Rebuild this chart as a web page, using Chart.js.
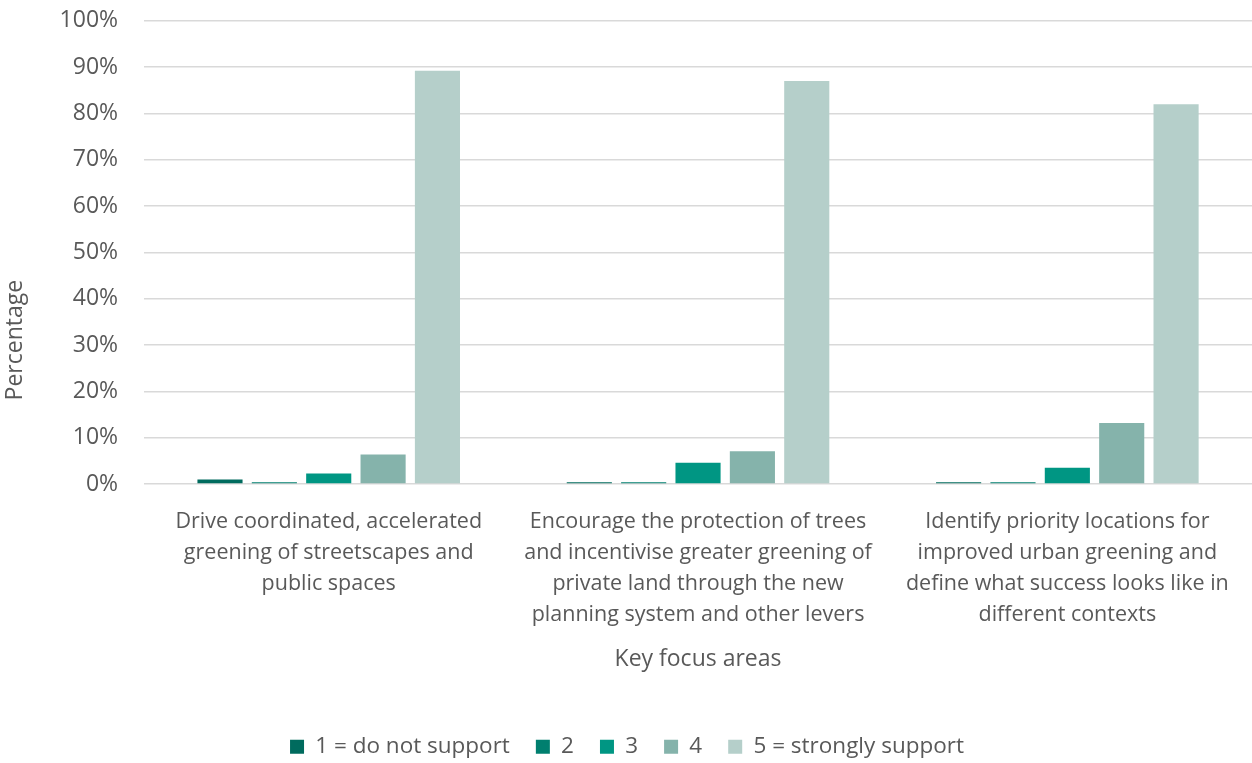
<!DOCTYPE html>
<html>
<head>
  <meta charset="UTF-8">
  <title>Key focus areas</title>
  <script src="https://cdn.jsdelivr.net/npm/chart.js"></script>
  <style>
    html, body { margin: 0; padding: 0; background: #fff; overflow: hidden; }
    /* pull the canvas up so the plot starts close to the top edge */
    #wrap { width: 1252px; height: 782px; margin-top: -19px; }
  </style>
</head>
<body>
  <div id="wrap"><canvas id="chart"></canvas></div>

  <script>
    const areas = [
      ['Drive coordinated, accelerated', 'greening of streetscapes and', 'public spaces'],
      ['Encourage the protection of trees', 'and incentivise greater greening of', 'private land through the new', 'planning system and other levers'],
      ['Identify priority locations for', 'improved urban greening and', 'define what success looks like in', 'different contexts']
    ];
    const seriesNames = ['1 = do not support', '2', '3', '4', '5 = strongly support'];
    const score1 = [1.0, 0.4, 0.4];
    const score2 = [0.4, 0.4, 0.4];
    const score3 = [2.3, 4.6, 3.5];
    const score4 = [6.4, 7.1, 13.2];
    const score5 = [89.2, 87.0, 82.0];
    const colours = ['#006B5E', '#007F6F', '#009683', '#85B3AB', '#B5CFCA'];

    const fontFamily = '"Open Sans", "Noto Sans", sans-serif';
    const textColour = '#595959';

    const allScores = [score1, score2, score3, score4, score5];
    const datasets = allScores.map((vals, i) => ({
      label: seriesNames[i],
      data: vals,
      backgroundColor: colours[i],
      borderWidth: 0,
      barPercentage: 0.83,
      categoryPercentage: 0.736
    }));

    new Chart(document.getElementById('chart'), {
      type: 'bar',
      data: { labels: areas, datasets: datasets },
      options: {
        responsive: true,
        maintainAspectRatio: false,
        animation: false,
        layout: { padding: { top: 0, right: 0, left: 2, bottom: -5 } },
        plugins: {
          tooltip: { enabled: false },
          legend: {
            position: 'bottom',
            labels: {
              boxWidth: 14,
              boxHeight: 14,
              padding: 26,
              color: textColour,
              font: { family: fontFamily, size: 22.5 }
            }
          }
        },
        scales: {
          x: {
            grid: { display: false },
            border: { display: false },
            ticks: {
              color: textColour,
              padding: 14,
              maxRotation: 0,
              autoSkip: false,
              font: { family: fontFamily, size: 21.5, lineHeight: 1.44 }
            },
            title: {
              display: true,
              text: 'Key focus areas',
              color: textColour,
              padding: { top: 2, bottom: 36 },
              font: { family: fontFamily, size: 23 }
            }
          },
          y: {
            min: 0,
            max: 100,
            grid: { color: '#d9d9d9', lineWidth: 1.5, drawTicks: false },
            border: { display: false },
            ticks: {
              stepSize: 10,
              padding: 26,
              color: textColour,
              font: { family: fontFamily, size: 23 },
              callback: v => v + '%'
            },
            title: {
              display: true,
              align: 'start',
              text: '              Percentage',
              color: textColour,
              padding: { top: 0, bottom: 4 },
              font: { family: fontFamily, size: 23 }
            }
          }
        }
      }
    });
  </script>
</body>
</html>
